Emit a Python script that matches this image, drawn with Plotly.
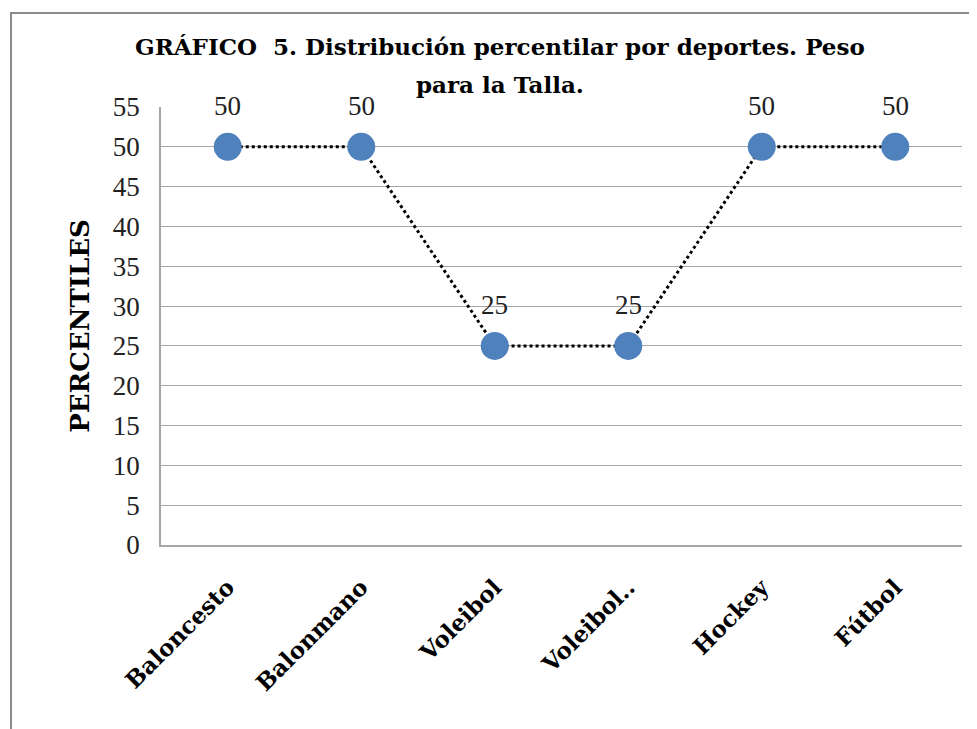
import plotly.graph_objects as go

categories = ["Baloncesto", "Balonmano", "Voleibol", "Voleibol..", "Hockey", "Fútbol"]
percentiles = [50, 50, 25, 25, 50, 50]
y_ticks = list(range(0, 56, 5))

title_line1 = "GRÁFICO  5. Distribución percentilar por deportes. Peso"
title_line2 = "para la Talla."
y_title = "PERCENTILES"

serif_bold = "DejaVu Serif"
num_font = "Liberation Serif"

# page offset of 8px (body margin) is compensated in the figure size
W, H = 969, 721
L, T, R, B = 153, 99, 15, 184
pw, ph = W - L - R, H - T - B

def px_x(x):
    return (x - 8 - L) / pw

def px_y(y):
    return (H - B - (y - 8)) / ph

fig = go.Figure()
fig.add_trace(go.Scatter(
    x=categories, y=percentiles, mode="lines+markers",
    line=dict(color="black", width=3, dash="dot"),
    marker=dict(color="#4F81BD", size=28, line=dict(width=0)),
    hoverinfo="skip", showlegend=False,
))

for c, v in zip(categories, percentiles):
    fig.add_annotation(x=c, y=v, text=str(v), showarrow=False, yshift=41,
                       font=dict(family=num_font, size=27, color="#222"))

fig.add_annotation(xref="paper", yref="paper", x=px_x(500), y=px_y(47),
                   xanchor="center", yanchor="middle",
                   text=title_line1, showarrow=False,
                   font=dict(family=serif_bold, size=23, color="black", weight="bold"))
fig.add_annotation(xref="paper", yref="paper", x=px_x(500), y=px_y(85),
                   xanchor="center", yanchor="middle",
                   text=title_line2, showarrow=False,
                   font=dict(family=serif_bold, size=23, color="black", weight="bold"))

fig.add_shape(type="rect", xref="paper", yref="paper",
              x0=px_x(11), x1=1.3, y0=-1, y1=px_y(13),
              line=dict(color="#8c8c8c", width=2), fillcolor="rgba(0,0,0,0)", layer="below")

fig.update_layout(
    width=W, height=H,
    margin=dict(l=L, r=R, t=T, b=B),
    paper_bgcolor="white", plot_bgcolor="white",
    xaxis=dict(
        type="category", tickangle=-45, showgrid=False,
        range=[-0.5, len(categories) - 0.5],
        showline=True, linecolor="#a6a6a6", linewidth=1.5,
        tickfont=dict(family=serif_bold, size=23, color="black", weight="bold"),
        ticklabelstandoff=18,
    ),
    yaxis=dict(
        range=[0, 55], tickvals=y_ticks, showgrid=True, gridcolor="#a6a6a6", gridwidth=1,
        showline=True, linecolor="#a6a6a6", linewidth=1.5, zeroline=False,
        tickfont=dict(family=num_font, size=27, color="#222"),
        ticklabelstandoff=14,
        title=dict(text=y_title, standoff=16,
                   font=dict(family=serif_bold, size=26, color="black", weight="bold")),
    ),
)

fig.write_html("out.html")
